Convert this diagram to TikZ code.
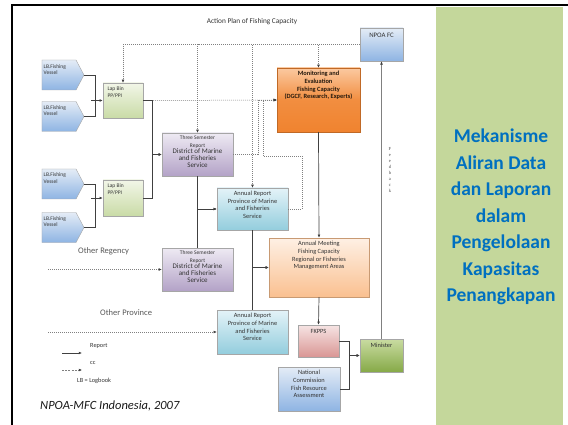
\documentclass[tikz,border=0pt]{standalone}
\usepackage{fontspec}
\setmainfont{Carlito}
\newfontfamily\fbfont{Liberation Serif}
\usetikzlibrary{arrows.meta,shapes.symbols}
\definecolor{panel}{HTML}{C4D79B}
\definecolor{paneltext}{HTML}{0070C0}
\definecolor{bluetop}{HTML}{E4ECF6}
\definecolor{bluebot}{HTML}{8EB4E3}
\definecolor{orgtop}{HTML}{FBC9A0}
\definecolor{orgbot}{HTML}{F0832F}
\definecolor{lgrtop}{HTML}{F2F6E8}
\definecolor{lgrbot}{HTML}{C9DBA6}
\definecolor{purtop}{HTML}{EEEAF3}
\definecolor{purbot}{HTML}{B3A2C7}
\definecolor{cyatop}{HTML}{E4F3F8}
\definecolor{cyabot}{HTML}{93CDDD}
\definecolor{pchtop}{HTML}{FEF0E4}
\definecolor{pchbot}{HTML}{FAC090}
\definecolor{pnktop}{HTML}{F6E4E4}
\definecolor{pnkbot}{HTML}{D99694}
\definecolor{grntop}{HTML}{C9DCA2}
\definecolor{grnbot}{HTML}{86A947}
\begin{document}
\begin{tikzpicture}[x=1pt,y=-1pt,
  box/.style={draw=black!35, line width=0.4pt, rectangle, inner sep=0pt},
  vessel/.style={draw=black!35, line width=0.4pt, signal, signal to=east, signal pointer angle=124, inner sep=0pt, minimum width=42pt, minimum height=30pt, top color=bluetop, bottom color=bluebot},
  txt/.style={inner sep=0pt, align=center, text=black!80, font=\fontsize{6.4}{7.6}\selectfont},
  txtl/.style={inner sep=0pt, align=left, text=black!80, font=\fontsize{5.5}{6.8}\selectfont},
  lgd/.style={inner sep=0pt, text=black!80, font=\fontsize{6.3}{7}\selectfont, anchor=west},
  rep/.style={draw=black!75, line width=0.7pt, -{Latex[length=3.2pt,width=2.8pt]}},
  cc/.style={draw=black!50, line width=0.5pt, dash pattern=on 1pt off 1pt, -{Latex[length=3.2pt,width=2.8pt,color=black!75]}},
  fbline/.style={draw=black!50, line width=1.2pt, -{Latex[length=3.5pt,width=3pt,color=black!75]}}
]
\useasboundingbox (0,0) rectangle (568,425);
\fill[white] (0,0) rectangle (568,425);
\fill[panel] (436,7) rectangle (563,425);
\draw[line width=2pt] (12,425) -- (12,5) -- (568,5);

% right panel text
\node[inner sep=0pt, align=center, text=paneltext, font=\fontsize{19.5}{26.5}\selectfont\bfseries] (paneltxt) at (501,217) {Mekanisme\\Aliran Data\\dan Laporan\\dalam\\Pengelolaan\\Kapasitas\\Penangkapan};

% title
\node[inner sep=0pt, text=black!80, font=\fontsize{7.3}{8}\selectfont] (title) at (252,22) {Action Plan of Fishing Capacity};

% boxes
\node[box, minimum width=43pt, minimum height=33pt, top color=bluetop, bottom color=bluebot] (npoa) at (381.5,44.5) {};
\node[txt, anchor=north, font=\fontsize{6.8}{7.6}\selectfont] (npoat) at ([yshift=-5pt]npoa.north) {NPOA FC};

\node[box, draw=orgbot!80!black, minimum width=83pt, minimum height=64pt, top color=orgtop, bottom color=orgbot, middle color=orgbot!85!orgtop] (mon) at (318.5,100) {};
\node[txt, anchor=north, text=black!80!brown, font=\fontsize{6.4}{7.6}\selectfont\bfseries] (mont) at ([yshift=-3.5pt]mon.north) {Monitoring and\\Evaluation\\Fishing Capacity\\(DGCF, Research, Experts)};

\node[box, minimum width=40pt, minimum height=35pt, top color=lgrtop, bottom color=lgrbot] (lb1) at (123,100.5) {};
\node[txtl, anchor=north west] (lb1t) at ([xshift=4.5pt,yshift=-3.5pt]lb1.north west) {Lap Bin\\PP/PPI};
\node[box, minimum width=40pt, minimum height=36pt, top color=lgrtop, bottom color=lgrbot] (lb2) at (123,198) {};
\node[txtl, anchor=north west] (lb2t) at ([xshift=4.5pt,yshift=-3.5pt]lb2.north west) {Lap Bin\\PP/PPI};

\node[vessel] (v1) at (59,75) {};
\node[txtl, anchor=north west] (v1t) at (43.5,64) {LB.Fishing\\Vessel};
\node[vessel] (v2) at (59,116.5) {};
\node[txtl, anchor=north west] (v2t) at (43.5,105) {LB.Fishing\\Vessel};
\node[vessel] (v3) at (59,184) {};
\node[txtl, anchor=north west] (v3t) at (43.5,172.5) {LB.Fishing\\Vessel};
\node[vessel] (v4) at (59,227.5) {};
\node[txtl, anchor=north west] (v4t) at (43.5,216) {LB.Fishing\\Vessel};

\node[box, minimum width=71pt, minimum height=43pt, top color=purtop, bottom color=purbot] (ts1) at (197.5,154.5) {};
\node[txt, anchor=north, font=\fontsize{5.5}{7.2}\selectfont] (ts1t) at ([yshift=-3pt]ts1.north) {Three Semester\\Report\\[-0.8pt]{\fontsize{7}{8.3}\selectfont District of Marine}\\{\fontsize{7}{8.3}\selectfont and Fisheries}\\{\fontsize{7}{8.3}\selectfont Service}};
\node[box, minimum width=71pt, minimum height=43pt, top color=purtop, bottom color=purbot] (ts2) at (197.5,269.5) {};
\node[txt, anchor=north, font=\fontsize{5.5}{7.2}\selectfont] (ts2t) at ([yshift=-3pt]ts2.north) {Three Semester\\Report\\[-0.8pt]{\fontsize{7}{8.3}\selectfont District of Marine}\\{\fontsize{7}{8.3}\selectfont and Fisheries}\\{\fontsize{7}{8.3}\selectfont Service}};

\node[box, minimum width=71pt, minimum height=42pt, top color=cyatop, bottom color=cyabot] (ar1) at (252.5,209) {};
\node[txt, anchor=north] (ar1t) at ([yshift=-3pt]ar1.north) {Annual Report\\Province of Marine\\and Fisheries\\Service};
\node[box, minimum width=71pt, minimum height=44pt, top color=cyatop, bottom color=cyabot] (ar2) at (252.5,332) {};
\node[txt, anchor=north] (ar2t) at ([yshift=-3.5pt]ar2.north) {Annual Report\\Province of Marine\\and Fisheries\\Service};

\node[box, draw=pchbot!80!black, minimum width=100pt, minimum height=59pt, top color=pchtop, bottom color=pchbot] (am) at (319,267.5) {};
\node[txt, anchor=north] (amt) at ([yshift=-3.5pt]am.north) {Annual Meeting\\Fishing Capacity\\Regional or Fisheries\\Management Areas};

\node[box, minimum width=41pt, minimum height=32pt, top color=pnktop, bottom color=pnkbot] (fk) at (318.5,341) {};
\node[txt, anchor=north] (fkt) at ([yshift=-4pt]fk.north) {FKPPS};

\node[box, minimum width=43pt, minimum height=33pt, top color=grntop, bottom color=grnbot] (min) at (381.5,355.5) {};
\node[txt, anchor=north] (mint) at ([yshift=-4.5pt]min.north) {Minister};

\node[box, minimum width=62pt, minimum height=44pt, top color=bluetop, bottom color=bluebot] (nc) at (309,389) {};
\node[txt, anchor=north] (nct) at ([yshift=-3.5pt]nc.north) {National\\Commission\\Fish Resource\\Assessment};

% free ends
\coordinate (orf) at (48,269.5);
\coordinate (opf) at (48,332);
\coordinate (j1) at (258,100);
\coordinate (k1) at (302,156);
\coordinate (k2) at (263,156);
\coordinate (k3) at (263,100);

% brackets from vessels
\draw[draw=black!75, line width=0.6pt] (v1.east) -- ++(11,0) |- (v2.east);
\coordinate (b1) at (91,100.5);
\draw[rep] (b1) -- (lb1.west);
\draw[draw=black!75, line width=0.6pt] (v3.east) -- ++(11,0) |- (v4.east);
\coordinate (b2) at (91,198);
\draw[rep] (b2) -- (lb2.west);

% cc lines from NPOA FC
\draw[cc] (npoa.west) -| (lb1.north);
\draw[cc] (npoa.west) -| (ts1.north);
\draw[cc] (npoa.west) -| (ar1.north);
\draw[cc] (npoa.west) -| (mon.north);

% cc lines to monitoring
\draw[cc] (lb1.east) -- (mon.west);
\draw[cc] (ts1.east) -| (j1) -- (mon.west);
\draw[cc] (ar1.east) -| (k1) -- (k2) -- (k3) -- (mon.west);

% report lines
\draw[rep] (lb1.east) -- ++(9,0) |- (ts1.west);
\draw[rep] (lb2.east) -- ++(9,0) |- (ts1.west);
\draw[rep] (ts1.south) |- (ar1.west);
\draw[rep] (ts2.north) |- (ar1.west);
\draw[rep] (ar1.south) |- (am.west);
\draw[rep] (ar2.north) |- (am.west);
\draw[rep] (mon.south) -- (am.north);
\draw[rep] (am.south) -- (fk.north);
\draw[rep] (fk.east) -- ++(10,0) |- (min.west);
\draw[rep] (nc.east) -- ++(9,0) |- (min.west);
\draw[fbline] (min.north) -- (npoa.south);
\node[inner sep=0pt, align=center, text=black!70, font=\fbfont\fontsize{4.6}{5.9}\selectfont] (fbk) at (390,170) {F\\e\\e\\d\\b\\a\\c\\k};

% other regency / province
\node[inner sep=0pt, text=black!65, font=\fontsize{8.5}{10}\selectfont, anchor=west] (oreg) at (78,251) {Other Regency};
\draw[cc] (orf) -- (ts2.west);
\node[inner sep=0pt, text=black!65, font=\fontsize{8.5}{10}\selectfont, anchor=west] (oprov) at (100,313) {Other Province};
\draw[cc] (opf) -- (ar2.west);

% legend
\node[lgd] (lgr) at (90,346) {Report};
\coordinate (lg1a) at (62,353);
\coordinate (lg1b) at (82,353);
\draw[rep] (lg1a) -- (lg1b);
\node[lgd] (lgc) at (90,363) {cc};
\coordinate (lg2a) at (62,370);
\coordinate (lg2b) at (82,370);
\draw[cc, dash pattern=on 2pt off 1.2pt] (lg2a) -- (lg2b);
\node[lgd] (lgl) at (77,381) {LB = Logbook};

\node[inner sep=0pt, anchor=west, font=\fontsize{12.5}{14}\selectfont\itshape, text=black!90] (src) at (40,406) {NPOA-MFC Indonesia, 2007};
\end{tikzpicture}
\end{document}
